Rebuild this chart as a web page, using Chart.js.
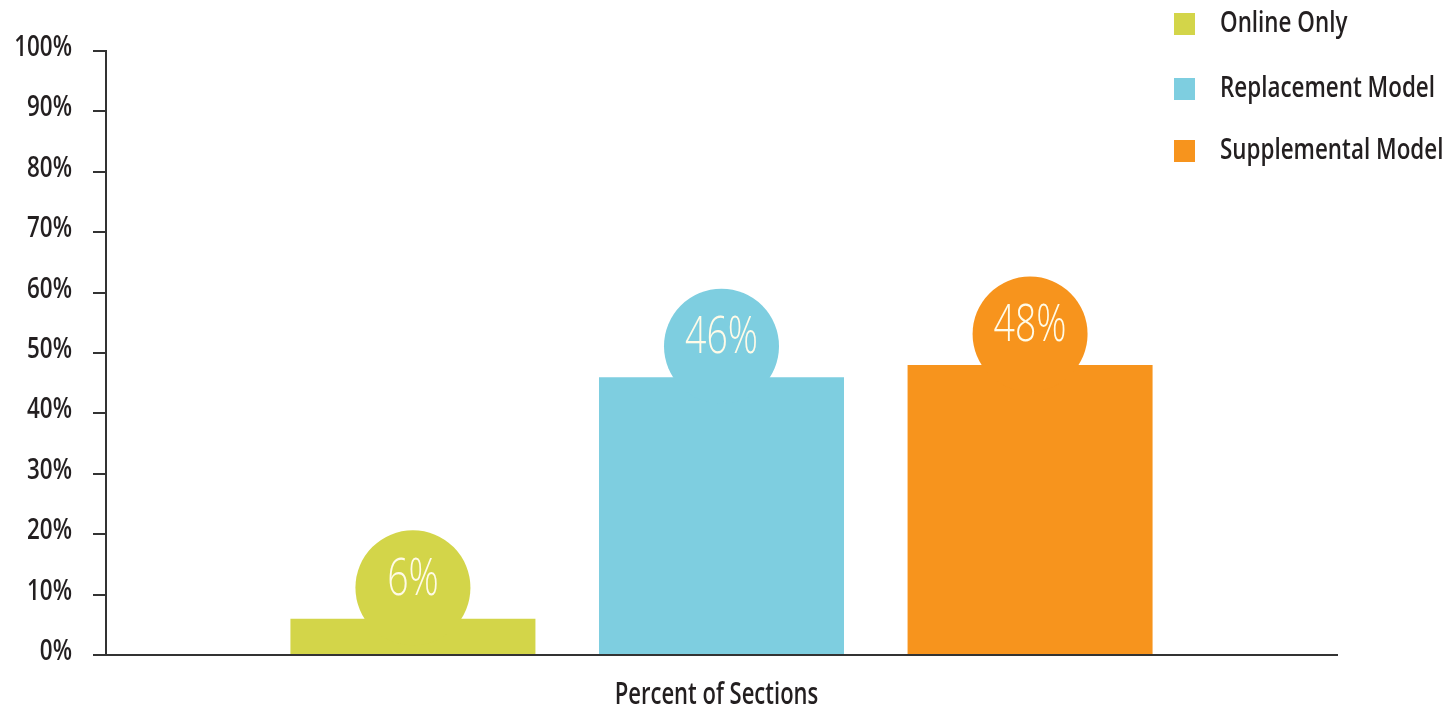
<!DOCTYPE html>
<html>
<head>
<meta charset="utf-8">
<style>
  html, body { margin: 0; padding: 0; background: #ffffff; }
  #wrap { width: 1446px; height: 710px; position: relative; }
</style>
<script src="https://cdn.jsdelivr.net/npm/chart.js@4.4.1/dist/chart.umd.min.js"></script>
</head>
<body>
<div id="wrap"><canvas id="sections-chart" width="1446" height="710"></canvas></div>
<script>
// --- DATA ---
const categories = ['Percent of Sections'];
const seriesNames = ['Online Only', 'Replacement Model', 'Supplemental Model'];
const seriesValues = [6, 46, 48];
const seriesColors = ['#d3d549', '#7ecee0', '#f7941d'];
const yTicks = [0, 10, 20, 30, 40, 50, 60, 70, 80, 90, 100];

const FONT = '"Open Sans", "Noto Sans", sans-serif';
const INK = '#231f20';

// condensed look: no narrow font installed, so squeeze the text horizontally
function squeezedText(ctx, text, x, y, align, font, color, sx) {
    ctx.save();
    ctx.translate(x, y);
    ctx.scale(sx, 1);
    ctx.font = font;
    ctx.fillStyle = color;
    ctx.textAlign = align;
    ctx.textBaseline = 'middle';
    ctx.fillText(text, 0, 0);
    ctx.restore();
}

// bubble with the value sitting on top of each bar
const bubblePlugin = {
    id: 'bubbles',
    afterDatasetsDraw(chart) {
        const ctx = chart.ctx;
        chart.data.datasets.forEach((ds, i) => {
            const bar = chart.getDatasetMeta(i).data[0];
            if (!bar) return;
            const cx = bar.x;
            const cy = bar.y - 31;
            ctx.save();
            ctx.fillStyle = ds.backgroundColor;
            ctx.beginPath();
            ctx.arc(cx, cy, 57.5, 0, Math.PI * 2);
            ctx.fill();
            ctx.restore();
            squeezedText(ctx, ds.data[0] + '%', cx, cy - 8, 'center', '300 52px ' + FONT, '#fffbe8', 0.72);
        });
    }
};

// axis labels, x title and the vertical legend in the corner
const textPlugin = {
    id: 'texts',
    afterDraw(chart) {
        const ctx = chart.ctx;
        const y = chart.scales.y;
        const x = chart.scales.x;
        yTicks.forEach(v => {
            squeezedText(ctx, v + '%', 72, y.getPixelForValue(v) - 3, 'right', '600 28px ' + FONT, INK, 0.8);
        });
        categories.forEach((c, i) => {
            squeezedText(ctx, c, x.getPixelForValue(i) - 5, 695, 'center', '600 31px ' + FONT, INK, 0.71);
        });
        const ys = [24, 89, 151];
        chart.data.datasets.forEach((ds, i) => {
            ctx.save();
            ctx.fillStyle = ds.backgroundColor;
            ctx.fillRect(1174, ys[i] - 11, 21, 22);
            ctx.restore();
            squeezedText(ctx, ds.label, 1220, ys[i], 'left', '600 28px ' + FONT, INK, 0.8);
        });
    }
};

const ctx = document.getElementById('sections-chart');
new Chart(ctx, {
    type: 'bar',
    data: {
        labels: categories,
        datasets: seriesNames.map((name, i) => ({
            label: name,
            data: [seriesValues[i]],
            backgroundColor: seriesColors[i],
            borderWidth: 0,
            categoryPercentage: 0.752,
            barPercentage: 0.794
        }))
    },
    options: {
        responsive: false,
        animation: false,
        devicePixelRatio: 1,
        layout: { padding: { top: 51, right: 109, left: 0, bottom: 0 } },
        plugins: {
            legend: { display: false },
            tooltip: { enabled: false }
        },
        scales: {
            x: {
                grid: { display: false, drawTicks: false },
                border: { display: true, color: '#333', width: 2 },
                ticks: { display: false },
                afterFit(scale) { scale.height = 55; }
            },
            y: {
                min: 0,
                max: 100,
                afterBuildTicks(scale) { scale.ticks = yTicks.map(v => ({ value: v })); },
                grid: { drawOnChartArea: false, drawTicks: true, tickLength: 13, color: '#333', lineWidth: 2 },
                border: { display: true, color: '#333', width: 2 },
                ticks: { display: false },
                afterFit(scale) { scale.width = 106; }
            }
        }
    },
    plugins: [bubblePlugin, textPlugin]
});
</script>
</body>
</html>
